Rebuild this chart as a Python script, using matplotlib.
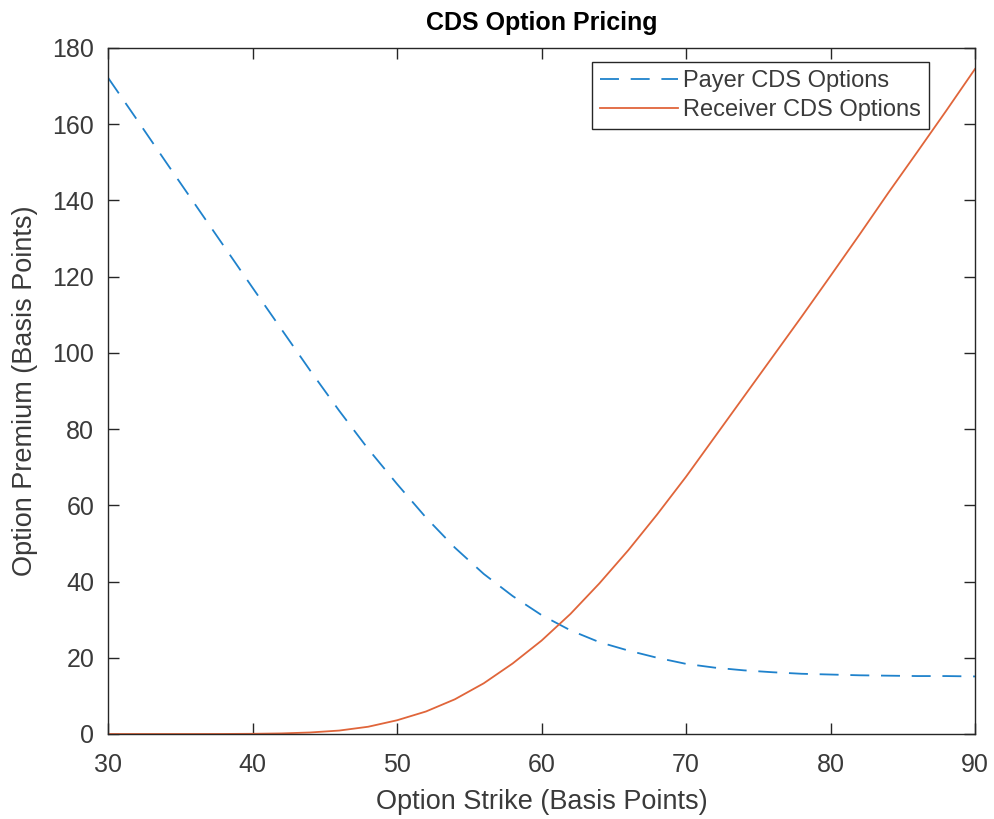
import numpy as np
import matplotlib
matplotlib.use('Agg')
import matplotlib.pyplot as plt

plt.rcParams['font.family'] = ['Liberation Sans', 'DejaVu Sans']

# strike grid (basis points)
strikes = [30, 32, 34, 36, 38, 40, 42, 44, 46, 48, 50, 52, 54, 56, 58, 60,
           62, 64, 66, 68, 70, 72, 74, 76, 78, 80, 82, 84, 86, 88, 90]

# premiums
payer = [172.2, 161.2, 150.1, 139.1, 128.1, 117.1, 106.2, 95.3, 84.8, 74.8,
         65.6, 56.8, 48.9, 42.0, 36.2, 31.2, 27.2, 24.1, 21.9, 20.0, 18.4,
         17.4, 16.7, 16.2, 15.8, 15.6, 15.4, 15.3, 15.2, 15.2, 15.1]
receiver = [0.0, 0.0, 0.0, 0.0, 0.01, 0.05, 0.15, 0.4, 0.9, 1.9, 3.6, 5.9,
            9.1, 13.3, 18.5, 24.5, 31.5, 39.5, 48.2, 57.6, 67.5, 78.0, 88.5,
            99.0, 109.5, 120.2, 131.0, 142.0, 152.7, 163.5, 174.5]

series_names = ['Payer CDS Options', 'Receiver CDS Options']

xticks = [30, 40, 50, 60, 70, 80, 90]
yticks = [0, 20, 40, 60, 80, 100, 120, 140, 160, 180]

dark = '#262626'
text_c = '#3a3a3a'
blue = '#1f82cc'
orange = '#e0653a'

fig = plt.figure(figsize=(9.94, 8.19), dpi=100)
ax = fig.add_axes([0.1087, 0.1038, 0.8722, 0.8376])

ax.plot(strikes, payer, color=blue, lw=1.3, dashes=(10.5, 6.5), label=series_names[0])
ax.plot(strikes, receiver, color=orange, lw=1.3, label=series_names[1])

ax.set_xlim(30, 90)
ax.set_ylim(0, 180)
ax.set_xticks(xticks)
ax.set_yticks(yticks)
ax.tick_params(direction='in', length=8, width=1, colors=dark, labelcolor=text_c,
               labelsize=18, top=True, right=True)
ax.tick_params(axis='x', pad=14)
ax.tick_params(axis='y', pad=10)
for s in ax.spines.values():
    s.set_color(dark)
    s.set_linewidth(1)

ax.set_xlabel('Option Strike (Basis Points)', fontsize=19.5, color=text_c, labelpad=8)
ax.set_ylabel('Option Premium (Basis Points)', fontsize=19.5, color=text_c, labelpad=10)
ax.set_title('CDS Option Pricing', fontsize=18, fontweight='bold', color='black', pad=13)

leg = ax.legend(loc='upper right', bbox_to_anchor=(0.947, 0.98), borderaxespad=0,
                fancybox=False, framealpha=1, edgecolor=dark, fontsize=17,
                handlelength=3.3, handletextpad=0.2, borderpad=0.35, labelspacing=0.3)
leg.get_frame().set_linewidth(1)
for t in leg.get_texts():
    t.set_color(text_c)

fig.savefig('out.png', dpi=100)
